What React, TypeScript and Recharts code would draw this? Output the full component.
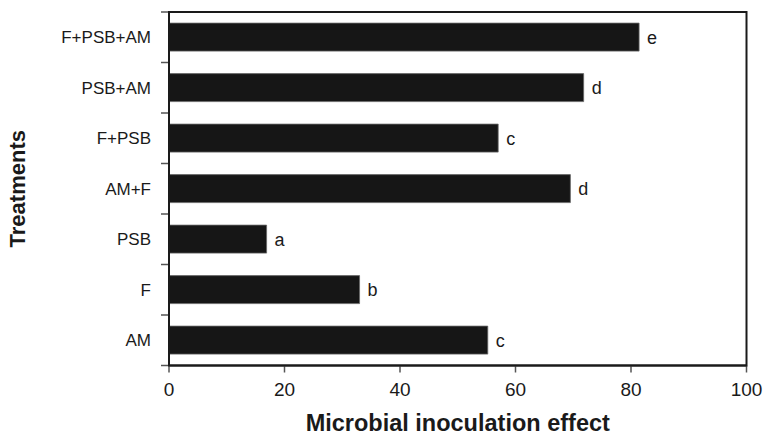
import React from 'react';
import { BarChart, Bar, XAxis, YAxis, LabelList } from 'recharts';

const treatments = ['F+PSB+AM', 'PSB+AM', 'F+PSB', 'AM+F', 'PSB', 'F', 'AM'];
const effect = [81.4, 71.8, 57.0, 69.5, 16.9, 33.0, 55.2];
const letters = ['e', 'd', 'c', 'd', 'a', 'b', 'c'];
const xTicks = [0, 20, 40, 60, 80, 100];

const data = treatments.map((t, i) => ({ name: t, value: effect[i], letter: letters[i] }));

const W = 763;
const H = 435;
const TOP = 12;
const Y_W = 169;
const X_H = 69.5;
const RIGHT = 16.5;
const PLOT_W = W - Y_W - RIGHT;
const PLOT_H = H - TOP - X_H;
const BAND = PLOT_H / treatments.length;
const FONT = '"Liberation Sans", Arial, Helvetica, sans-serif';
const INK = '#1a1a1a';

// tick marks sit on the band edges (one more than the categories)
const edgeIdx = treatments.map((_, i) => i).concat(treatments.length);

export default function App() {
    return (
        <div style={{ position: 'absolute', left: 0, top: 0, width: W, height: H, background: '#fff' }}>
            <BarChart
                width={W}
                height={H}
                data={data}
                layout="vertical"
                margin={{ top: TOP, right: RIGHT, bottom: 0, left: 0 }}
                barCategoryGap="22%"
            >
                <XAxis
                    type="number"
                    domain={[0, 100]}
                    ticks={xTicks}
                    height={X_H}
                    tickSize={7}
                    tickMargin={10}
                    axisLine={{ stroke: INK, strokeWidth: 2 }}
                    tickLine={{ stroke: '#555', strokeWidth: 1.5 }}
                    tick={{ fontSize: 19, fill: INK, fontFamily: FONT }}
                    label={{
                        content: (p: any) => {
                            const vb = p.viewBox;
                            return (
                                <text x={vb.x + vb.width / 2} y={H - 4} textAnchor="middle" fontSize={23.5} fontWeight="bold" fill={INK} fontFamily={FONT}>
                                    Microbial inoculation effect
                                </text>
                            );
                        },
                    }}
                />
                <YAxis
                    type="category"
                    dataKey="name"
                    width={Y_W}
                    tickLine={false}
                    tickMargin={18}
                    tickSize={0}
                    axisLine={{ stroke: INK, strokeWidth: 2 }}
                    tick={{ fontSize: 17, fill: INK, fontFamily: FONT }}
                    label={{
                        content: () => {
                            const cy = TOP + PLOT_H / 2;
                            return (
                                <text x={25} y={cy} transform={`rotate(-90, 25, ${cy})`} textAnchor="middle" fontSize={22} fontWeight="bold" fill={INK} fontFamily={FONT}>
                                    Treatments
                                </text>
                            );
                        },
                    }}
                />
                <Bar dataKey="value" fill="#161616" stroke="#666" strokeWidth={0.8} isAnimationActive={false}>
                    <LabelList dataKey="letter" position="right" offset={8} fontSize={18} fill={INK} fontFamily={FONT} />
                </Bar>
            </BarChart>
            <svg width={W} height={H} style={{ position: 'absolute', left: 0, top: 0, pointerEvents: 'none' }}>
                {edgeIdx.map((i) => (
                    <line key={i} x1={Y_W - 8} x2={Y_W} y1={TOP + i * BAND} y2={TOP + i * BAND} stroke="#555" strokeWidth={1.5} />
                ))}
                <rect x={Y_W} y={TOP} width={PLOT_W} height={PLOT_H} fill="none" stroke={INK} strokeWidth={2} />
            </svg>
        </div>
    );
}
